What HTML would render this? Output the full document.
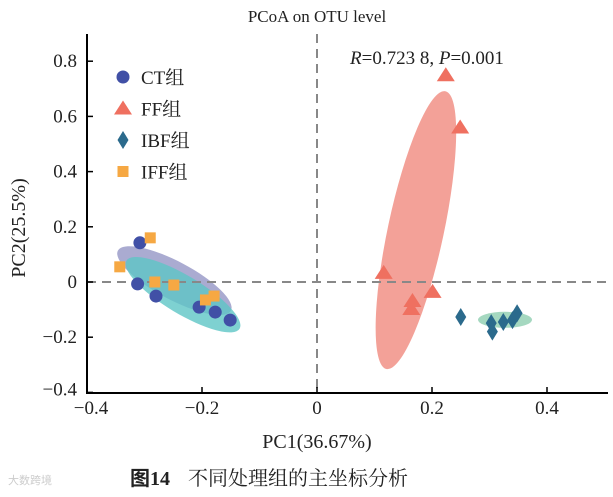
<!DOCTYPE html>
<html><head><meta charset="utf-8">
<style>
html,body{margin:0;padding:0;background:#fff;}
svg{display:block;font-family:"Liberation Serif","Noto Serif CJK SC",serif;}
</style></head>
<body>
<svg id="chart" width="613" height="497" viewBox="0 0 613 497"></svg>
<script>
// data
const ctX = [-0.308, -0.312, -0.280, -0.205, -0.177, -0.151];
const ctY = [0.142, -0.007, -0.051, -0.091, -0.109, -0.138];
const ffX = [0.224, 0.249, 0.116, 0.166, 0.164, 0.201];
const ffY = [0.749, 0.560, 0.033, -0.069, -0.098, -0.036];
const ibfX = [0.250, 0.303, 0.305, 0.324, 0.340, 0.348];
const ibfY = [-0.127, -0.149, -0.180, -0.145, -0.138, -0.113];
const iffX = [-0.290, -0.343, -0.282, -0.249, -0.194, -0.179];
const iffY = [0.160, 0.055, 0.000, -0.011, -0.065, -0.051];
const xTicks = [-0.4, -0.2, 0, 0.2, 0.4];
const xTickLabels = ["\u22120.4", "\u22120.2", "0", "0.2", "0.4"];
const yTicks = [-0.4, -0.2, 0, 0.2, 0.4, 0.6, 0.8];
const yTickLabels = ["\u22120.4", "\u22120.2", "0", "0.2", "0.4", "0.6", "0.8"];

const X0 = 317, XS = 575, Y0 = 282, YS = 276;
function sx(v){ return X0 + v*XS; }
function sy(v){ return Y0 - v*YS; }

const svg = document.getElementById('chart');
const NS = 'http://www.w3.org/2000/svg';
function mk(tag, attrs, parent){
  const e = document.createElementNS(NS, tag);
  for (const k in attrs) e.setAttribute(k, attrs[k]);
  (parent||svg).appendChild(e);
  return e;
}

// ellipses (confidence regions)
let e;
e = mk('ellipse', {cx: sx(0.172), cy: sy(0.188), rx: 28, ry: 142, transform: `rotate(12 ${sx(0.172)} ${sy(0.188)})`, fill: '#f08a7e', 'fill-opacity': 0.8});


e = mk('ellipse', {cx: sx(-0.248), cy: sy(0.005), rx: 64, ry: 19, transform: `rotate(28 ${sx(-0.248)} ${sy(0.005)})`, fill: '#9b9cc9', 'fill-opacity': 0.85});


e = mk('ellipse', {cx: sx(-0.233), cy: sy(-0.046), rx: 66, ry: 19, transform: `rotate(31 ${sx(-0.233)} ${sy(-0.046)})`, fill: '#5ec5c6', 'fill-opacity': 0.8});


e = mk('ellipse', {cx: sx(0.327), cy: sy(-0.137), rx: 27, ry: 8, fill: '#8fceb0', 'fill-opacity': 0.8});



// dashed zero lines
e = mk('line', {x1: 87, x2: 607, y1: sy(0), y2: sy(0), stroke: '#888', 'stroke-width': 2, 'stroke-dasharray': '9,6'});


e = mk('line', {x1: sx(0), x2: sx(0), y1: 34, y2: 393, stroke: '#888', 'stroke-width': 2, 'stroke-dasharray': '9,6'});



// axes
e = mk('line', {x1: 87, x2: 87, y1: 34, y2: 394, stroke: '#000', 'stroke-width': 2});


e = mk('line', {x1: 86, x2: 608, y1: 393, y2: 393, stroke: '#000', 'stroke-width': 2});



xTicks.forEach((v, i) => {
  let t = mk('line', {x1: sx(v), x2: sx(v), y1: 393, y2: 387, stroke: '#000', 'stroke-width': 1.5});
  
  
  t = mk('text', {x: sx(v) + (i === 0 ? 4 : 0), y: 414, 'font-size': 19, 'text-anchor': 'middle', fill: '#222'});
  t.textContent = xTickLabels[i];
  
  
});
yTicks.forEach((v, i) => {
  let t = mk('line', {x1: 87, x2: 93, y1: sy(v), y2: sy(v), stroke: '#000', 'stroke-width': 1.5});
  
  
  t = mk('text', {x: 77, y: sy(v) + 6 - (i === 0 ? 3 : 0), 'font-size': 19, 'text-anchor': 'end', fill: '#222'});
  t.textContent = yTickLabels[i];
  
  
});

// markers
function circle(cx, cy, g){ return mk('circle', {cx, cy, r: 6.5, fill: '#4150a6'}, g); }
function tri(cx, cy, g){ return mk('polygon', {points: `${cx},${cy-8} ${cx+9},${cy+6} ${cx-9},${cy+6}`, fill: '#ef7060'}, g); }
function dia(cx, cy, g){ return mk('polygon', {points: `${cx},${cy-9} ${cx+5.5},${cy} ${cx},${cy+9} ${cx-5.5},${cy}`, fill: '#2b6a8c'}, g); }
function sq(cx, cy, g){ return mk('rect', {x: cx-5.5, y: cy-5.5, width: 11, height: 11, fill: '#f6a843'}, g); }

ctX.forEach((v, i) => { const m = circle(sx(v), sy(ctY[i]));
  
   });
ffX.forEach((v, i) => { const m = tri(sx(v), sy(ffY[i]));
  
   });
ibfX.forEach((v, i) => { const m = dia(sx(v), sy(ibfY[i]));
  
   });
iffX.forEach((v, i) => { const m = sq(sx(v), sy(iffY[i]));
  
   });

// legend
const lg = mk('g', {});


const legendNames = ['CT组', 'FF组', 'IBF组', 'IFF组'];
const legendFns = [circle, tri, dia, sq];
legendNames.forEach((n, i) => {
  const y = 77 + i*31.5;
  const m = legendFns[i](123, y, lg);
  
  
  const t = mk('text', {x: 141, y: y + 7, 'font-size': 19, fill: '#222'}, lg);
  t.textContent = n;
  
  
});

// texts
let t;
t = mk('text', {x: 317, y: 22, 'font-size': 17, 'text-anchor': 'middle', fill: '#222'});
t.textContent = 'PCoA on OTU level';


t = mk('text', {x: 350, y: 64, 'font-size': 19, fill: '#222'});
t.innerHTML = '<tspan font-style="italic">R</tspan>=0.723 8, <tspan font-style="italic">P</tspan>=0.001';


t = mk('text', {x: 317, y: 448, 'font-size': 20, 'text-anchor': 'middle', fill: '#222'});
t.textContent = 'PC1(36.67%)';


t = mk('text', {x: 25, y: 228, 'font-size': 20, 'text-anchor': 'middle', fill: '#222', transform: 'rotate(-90 25 228)'});
t.textContent = 'PC2(25.5%)';


t = mk('text', {x: 130, y: 485, 'font-size': 20, fill: '#222'});
t.innerHTML = '<tspan font-weight="bold" font-family="Noto Sans CJK SC, sans-serif">图</tspan><tspan font-weight="bold">14</tspan><tspan dx="18" font-family="Noto Serif CJK SC, serif">不同处理组的主坐标分析</tspan>';


t = mk('text', {x: 8, y: 484, 'font-size': 11, fill: '#ccc', 'font-family': 'Noto Sans CJK SC, sans-serif'});
t.textContent = '大数跨境';


</script>
</body></html>
